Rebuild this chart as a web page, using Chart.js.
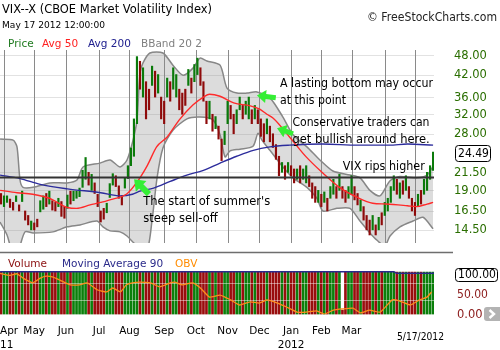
<!DOCTYPE html>
<html><head><meta charset="utf-8"><title>VIX--X</title>
<script src="https://cdn.jsdelivr.net/npm/chart.js@4.4.1/dist/chart.umd.min.js"></script>
<style>
html,body{margin:0;padding:0;background:#fff;width:500px;height:350px;overflow:hidden}
#c1{position:absolute;left:0;top:0}
#c2{position:absolute;left:0;top:250px}
</style></head><body>
<canvas id="c1" width="500" height="250"></canvas>
<canvas id="c2" width="500" height="100"></canvas>
<script>
// ---------- DATA ----------
// trading-day index: 0 = first trading day of Apr 2011; one price bar every 2 trading days
const firstBarDay = -2, barStep = 2;
const lows = [17.3,17.0,17.5,16.9,16.6,17.6,16.5,17.6,15.5,15.0,
  14.5,14.5,14.8,16.4,16.7,17.0,17.3,16.6,16.5,17.0,
  15.9,15.7,16.8,17.3,17.7,18.0,18.2,19.4,20.5,19.7,
  19.0,18.6,17.0,15.3,15.6,16.3,18.1,19.7,19.5,18.0,
  17.2,19.3,20.6,22.5,24.0,30.0,38.0,36.0,31.0,33.0,
  39.0,36.0,37.0,31.0,30.0,36.0,35.0,38.0,36.0,33.0,
  32.0,34.0,39.0,37.0,40.0,42.0,39.0,35.0,30.0,31.0,
  28.5,29.0,27.0,23.3,26.0,30.0,31.0,28.0,30.0,33.0,
  31.0,32.0,31.0,30.0,31.0,30.0,27.5,26.5,28.0,26.5,
  25.5,23.5,21.0,21.5,20.5,21.5,21.0,20.0,20.5,20.0,
  20.5,20.0,19.5,18.0,17.5,17.5,17.0,17.5,16.5,18.0,
  18.5,18.0,19.0,18.0,17.5,18.0,18.5,17.8,17.2,16.5,
  15.5,14.5,14.0,14.5,14.0,14.5,15.0,16.0,16.5,17.5,
  19.0,18.5,18.0,18.5,19.0,18.0,16.5,16.0,17.0,17.3,
  18.5,19.0,20.5,21.8];
const highs = [18.6,18.3,18.3,17.9,17.5,18.3,17.2,18.9,16.5,16.0,
  15.4,15.2,15.6,17.7,18.3,18.6,18.9,17.7,17.5,18.0,
  17.6,17.0,18.4,18.9,18.9,18.9,19.3,21.8,23.8,21.5,
  21.2,20.0,18.5,16.5,16.8,17.4,19.9,21.3,21.0,19.6,
  18.3,20.7,22.5,25.4,31.0,47.5,46.0,44.0,40.0,38.0,
  44.5,43.0,42.0,36.0,35.0,41.0,40.0,44.0,42.0,38.0,
  37.0,38.0,43.5,41.0,45.0,47.0,44.0,40.0,35.0,35.0,
  32.0,31.5,29.5,27.0,28.5,35.0,34.0,32.0,33.0,36.0,
  34.0,35.0,36.0,33.0,34.0,33.0,31.0,30.0,31.0,29.5,
  28.0,26.0,24.0,23.0,22.5,23.0,22.5,22.0,22.0,22.5,
  22.0,22.5,21.0,20.0,19.5,19.0,18.5,18.8,18.0,19.5,
  20.5,19.5,21.2,19.5,19.0,19.5,21.0,19.5,18.6,17.8,
  17.0,16.0,15.5,16.0,15.0,15.8,16.3,17.5,18.0,19.5,
  21.0,20.5,20.0,20.3,21.0,19.5,18.0,17.5,18.5,19.0,
  20.5,21.5,22.5,24.7];
// G = up bar, R = down bar
const dirs = "RGGRRGRGRR" + "GRRGGRGRRG" + "RRGRGGGGGR" + "GRRRRGGGRR" + "RGGGGGRGRR" +
             "GRGRRGRGGR" + "RRGRGGRRRG" + "RGRRGGRRGG" + "RGGRGRRRGR" + "RRRGRGRRGR" +
             "GGRRRGRGRG" + "GRGRRGGRRG" + "RRRGRGRGGG" + "GRGRGRRRGR" + "GGGG";
const volume = [107,107,107,107,107,107,107,107,107,107,
  107,107,107,107,107,107,107,107,107,107,
  107,107,107,107,107,107,107,107,107,107,
  107,107,107,107,107,107,107,107,107,107,
  107,107,107,107,107,107,107,107,107,107,
  107,107,107,107,107,107,107,107,107,107,
  107,107,107,107,107,107,107,107,107,107,
  107,107,107,107,107,107,107,107,107,107,
  107,107,107,107,107,107,107,107,107,107,
  107,107,107,107,107,107,107,107,107,107,
  107,107,107,107,107,107,107,107,107,107,
  107,107,107,11,107,107,107,107,107,107,
  107,107,107,107,107,107,107,107,107,107,
  107,107,107,107,107,107,107,107,107,107,
  107,107,107,107];

const ma50Days = [-2.6,8.6,19,30,42,48,57,64,72,81,88,95,101,108,116,125,132,136,143,152,163,169,174,178,189,200,211,222,234,244,253,267,273,280,284];
const ma50Vals = [19.0,18.7,18.5,18.0,16.9,16.8,17.2,17.5,17.9,18.5,20.1,22.6,25.6,27.4,30.8,34.1,36.0,36.7,36.2,34.6,33.9,33.2,32.0,31.2,27.4,23.9,21.4,19.4,18.1,17.4,17.3,17.1,17.0,17.3,17.5];
const ma200Days = [-2.6,10.6,24,42,64,77,85,90,99,110,121,132,143,154,165,176,189,211,234,255,267,284];
const ma200Vals = [21.1,20.6,19.8,19.2,18.7,18.3,18.5,18.9,19.3,20.2,21.1,21.8,22.9,24.0,25.0,25.6,25.9,26.1,25.9,25.9,26.1,25.9];
const bbUpDays = [-2.6,6,8.6,10.6,12.6,19.2,30.4,41.7,48.3,52.3,63.5,70.2,76.8,81.4,85.4,88,90,92,96.6,105.2,111.8,118.5,125.1,129.7,134.3,143,147.6,154.2,160.8,167.4,176,184.6,191.3,200.5,209.1,217.7,229,235.6,242.2,248.8,255.5,262,273.3,280,284];
const bbUpVals = [27.0,26.8,25.6,20.4,19.4,19.4,20.0,20.0,20.4,22.3,22.9,23.4,22.3,23.4,26.8,30.8,42.4,45.5,48.7,48.7,44.8,41.8,43.9,47.0,46.1,44.8,38.3,37.0,37.0,37.3,35.8,31.4,27.8,25.6,23.4,21.7,21.1,20.7,19.0,18.3,20.3,20.9,20.7,21.1,22.4];
const bbLoDays = [-2.6,2,5.3,9.3,13.9,19.2,32.4,41.7,50.3,61.5,65.5,70.2,76.8,81.4,88,94.6,98,101.3,105.2,111.8,121.1,129.7,138.3,143,146.3,149.6,156.2,164.8,168.1,170.7,176,184.6,191.3,200.5,207.1,211.1,220.4,229,235.6,242.2,246.9,252.1,255.5,262.1,270.7,277.3,284];
const bbLoVals = [15.3,14.0,12.6,12.6,14.3,14.2,14.3,14.8,15.0,15.4,14.8,14.4,14.3,13.9,13.0,12.6,15.5,20.7,25.4,28.7,31.0,31.4,30.8,27.8,23.9,24.9,25.2,25.7,28.1,26.8,25.0,22.3,20.7,19.4,18.0,16.5,16.8,16.8,15.4,14.2,13.5,13.0,13.9,14.8,15.4,15.8,14.6];
const supportLevel = 20.75;

const obvDays = [-2.6,4,8.6,12.6,19,24,28,32,37,44,50,55,62,68,72,77,81,85,90,97,103,110,113,118,125,130,136,143,150,156,163,169,174,181,187,194,200,207,212,218,224,231,236,242,249,257,262,269,275,280,283];
const obvVals = [104,99,103,92,80,92,97,95,87,75,75,80,62,57,67,57,75,80,82,80,70,80,82,75,80,67,44,49,37,24,32,29,37,29,19,6,6,9,1,11,14,16,4,11,6,37,34,24,37,44,57];
const ma90Days = [-2.6,258,260,284.6];
const ma90Vals = [108,108,104,104];

const monthStarts = [0,20,41,63,83,106,127,148,169,190,210,230,252,272];
const monthLabels = ["Apr","May","Jun","Jul","Aug","Sep","Oct","Nov","Dec","Jan","Feb","Mar","",""];
const yearLabels  = ["11","","","","","","","","","2012","","","",""];
const priceTicks = [48,42,36,32,28,21.5,19,16.5,14.5];
const lastPrice = 24.49;
const volumeTicks = [50,0];
const lastVolumeLabel = 100;
const lastDateLabel = "5/17/2012";

const notes = [
  {day:92.2, value:17.18, lines:["The start of summer's","steep sell-off"], w:[161,88]},
  {day:182.7, value:38.6, lines:["A lasting bottom may occur","at this point"], w:[153,66]},
  {day:190.9, value:29.5, lines:["Conservative traders can","get bullish around here."], w:[137,140]},
  {day:224.2, value:21.8, lines:["VIX rips higher"], w:[82]}
];
const arrows = [
  {day:86.1, value:20.5, dx:-1, dy:-1, len:21, head:10, hw:15, sw:6},
  {day:167.4, value:36.4, dx:-1, dy:-0.12, len:19, head:9, hw:13, sw:5},
  {day:180.7, value:29.1, dx:-1, dy:-0.35, len:17, head:9, hw:13, sw:5}
];

// ---------- helpers ----------
const X_MIN = -2.65, X_MAX = 284.6;
const FONT = "'DejaVu Sans', Verdana, sans-serif";
const zip = (d, v) => d.map((x, k) => ({x, y: v[k]}));
const barData = lows.map((lo, k) => ({x: firstBarDay + k*barStep, y: [lo, highs[k]]}));
const barColors = dirs.split('').map(c => c === 'G' ? '#0a7a0a' : '#8e0a0a');
const volData = volume.map((v, k) => ({x: firstBarDay + k*barStep, y: v}));
const volColors = dirs.split('').map(c => c === 'G' ? '#0b7f0b' : '#990d0d');

function txt(ctx, s, x, y, size, color, maxW, align, base, weight) {
  ctx.save();
  ctx.font = (weight || '') + ' ' + size + 'px ' + FONT;
  ctx.fillStyle = color;
  ctx.textAlign = align || 'left';
  ctx.textBaseline = base || 'alphabetic';
  if (maxW) ctx.fillText(s, x, y, maxW); else ctx.fillText(s, x, y);
  ctx.restore();
}
function rrect(ctx, x, y, w, h, r) {
  ctx.beginPath();
  ctx.moveTo(x + r, y); ctx.lineTo(x + w - r, y); ctx.quadraticCurveTo(x + w, y, x + w, y + r);
  ctx.lineTo(x + w, y + h - r); ctx.quadraticCurveTo(x + w, y + h, x + w - r, y + h);
  ctx.lineTo(x + r, y + h); ctx.quadraticCurveTo(x, y + h, x, y + h - r);
  ctx.lineTo(x, y + r); ctx.quadraticCurveTo(x, y, x + r, y); ctx.closePath();
}
function blockArrow(ctx, tx, ty, a) {
  const m = Math.hypot(a.dx, a.dy), ux = a.dx/m, uy = a.dy/m, px = -uy, py = ux;
  const bx = tx - ux*a.head, by = ty - uy*a.head, ex = tx - ux*a.len, ey = ty - uy*a.len;
  ctx.beginPath();
  ctx.moveTo(tx, ty);
  ctx.lineTo(bx + px*a.hw/2, by + py*a.hw/2);
  ctx.lineTo(bx + px*a.sw/2, by + py*a.sw/2);
  ctx.lineTo(ex + px*a.sw/2, ey + py*a.sw/2);
  ctx.lineTo(ex - px*a.sw/2, ey - py*a.sw/2);
  ctx.lineTo(bx - px*a.sw/2, by - py*a.sw/2);
  ctx.lineTo(bx - px*a.hw/2, by - py*a.hw/2);
  ctx.closePath();
  ctx.fillStyle = '#35ee35'; ctx.fill();
}

// ---------- price panel ----------
const pricePlugin = {
  id: 'pricePlugin',
  beforeDatasetsDraw(chart) {
    const {ctx, chartArea: a, scales: {x, y}} = chart;
    ctx.save();
    ctx.lineWidth = 1;
    ctx.strokeStyle = '#e2e2e2';
    priceTicks.forEach(v => {
      const py = Math.round(y.getPixelForValue(v)) + 0.5;
      ctx.beginPath(); ctx.moveTo(a.left, py); ctx.lineTo(a.right, py); ctx.stroke();
    });
    ctx.strokeStyle = '#8a8a8a';
    monthStarts.forEach(d => {
      const px = Math.round(x.getPixelForValue(d)) + 0.5;
      ctx.beginPath(); ctx.moveTo(px, a.top); ctx.lineTo(px, a.bottom); ctx.stroke();
    });
    ctx.restore();
  },
  afterDraw(chart) {
    const {ctx, scales: {x, y}} = chart;
    // header
    txt(ctx, 'VIX--X (CBOE Market Volatility Index)', 2, 12.5, 13, '#000', 210);
    txt(ctx, 'May 17 2012 12:00:00', 2, 28, 9.5, '#000', 103);
    [['Price', '#1f7a1f', 8, 26], ['Avg 50', '#ff2020', 42, 41], ['Avg 200', '#20208f', 88, 45], ['BBand 20 2', '#808080', 141, 64]]
      .forEach(l => txt(ctx, l[0], l[2], 46.5, 10.5, l[1], l[3]));
    txt(ctx, '\u00A9 FreeStockCharts.com', 367, 20.5, 11.5, '#222', 130);
    // right axis
    priceTicks.forEach(v => txt(ctx, v.toFixed(2), 454, y.getPixelForValue(v) + 0.5, 11.5, '#2a6e00', 34, 'left', 'middle'));
    const ly = y.getPixelForValue(lastPrice);
    ctx.save();
    rrect(ctx, 455.5, Math.round(ly) - 7.5, 35, 16, 3);
    ctx.fillStyle = '#fff'; ctx.fill(); ctx.strokeStyle = '#000'; ctx.lineWidth = 1; ctx.stroke();
    ctx.restore();
    txt(ctx, lastPrice.toFixed(2), 458, Math.round(ly) + 1, 11.5, '#000', 31, 'left', 'middle');
    // annotations
    ctx.save();
    arrows.forEach(a => blockArrow(ctx, x.getPixelForValue(a.day), y.getPixelForValue(a.value), a));
    ctx.restore();
    notes.forEach(n => {
      const nx = x.getPixelForValue(n.day), ny = y.getPixelForValue(n.value);
      n.lines.forEach((s, k) => txt(ctx, s, nx, ny + k*16.7, 11.5, '#000', n.w[k]));
    });
  }
};

new Chart(document.getElementById('c1'), {
  type: 'bar',
  data: {datasets: [
    {type: 'line', label: 'support', data: [{x: X_MIN, y: supportLevel}, {x: X_MAX, y: supportLevel}],
     borderColor: '#333', borderWidth: 2.2, pointRadius: 0, order: 0},
    {type: 'line', label: 'Avg 50', data: zip(ma50Days, ma50Vals), borderColor: '#ff2a2a', borderWidth: 1.4,
     pointRadius: 0, cubicInterpolationMode: 'monotone', order: 1},
    {type: 'line', label: 'Avg 200', data: zip(ma200Days, ma200Vals), borderColor: '#2c2c9c', borderWidth: 1.4,
     pointRadius: 0, cubicInterpolationMode: 'monotone', order: 1},
    {type: 'bar', label: 'Price', data: barData, backgroundColor: barColors, barThickness: 1.5, borderWidth: 0, order: 2},
    {type: 'line', label: 'BBand upper', data: zip(bbUpDays, bbUpVals), borderColor: '#878787', borderWidth: 1.5,
     pointRadius: 0, tension: 0.25, fill: false, order: 3},
    {type: 'line', label: 'BBand lower', data: zip(bbLoDays, bbLoVals), borderColor: '#878787', borderWidth: 1.5,
     pointRadius: 0, tension: 0.25, fill: '-1', backgroundColor: 'rgba(140,140,140,0.30)', order: 4}
  ]},
  options: {
    responsive: false, animation: false, devicePixelRatio: 1,
    layout: {padding: {left: 0, right: 66, top: 50, bottom: 7}},
    scales: {
      x: {type: 'linear', min: X_MIN, max: X_MAX, display: false, offset: false},
      y: {type: 'logarithmic', min: 13.25, max: 49.7, display: false}
    },
    plugins: {legend: {display: false}, tooltip: {enabled: false}}
  },
  plugins: [pricePlugin]
});

// ---------- volume / OBV panel ----------
const volPlugin = {
  id: 'volPlugin',
  afterDatasetDraw(chart, args) {
    if (args.meta.type !== 'bar') return;
    const {ctx, chartArea: a, scales: {y}} = chart;
    ctx.save();
    ctx.strokeStyle = 'rgba(255,255,255,0.45)'; ctx.lineWidth = 1;
    [37, 80].forEach(v => {
      const py = Math.round(y.getPixelForValue(v)) + 0.5;
      ctx.beginPath(); ctx.moveTo(a.left, py); ctx.lineTo(a.right, py); ctx.stroke();
    });
    ctx.restore();
  },
  afterDraw(chart) {
    const {ctx, scales: {x, y}} = chart;
    ctx.save();
    ctx.strokeStyle = '#6e6e6e'; ctx.lineWidth = 1.5;
    ctx.beginPath(); ctx.moveTo(0, 2.5); ctx.lineTo(453, 2.5); ctx.stroke();
    ctx.restore();
    [['Volume', '#8b0f0f', 8, 41], ['Moving Average 90', '#2a2a8a', 62, 105], ['OBV', '#ff8c00', 175, 23]]
      .forEach(l => txt(ctx, l[0], l[2], 17, 10.5, l[1], l[3]));
    volumeTicks.forEach(v => txt(ctx, v.toFixed(2), 457, y.getPixelForValue(v) + 0.5, 11.5, '#8b1a1a', 31, 'left', 'middle'));
    const by = Math.round(y.getPixelForValue(lastVolumeLabel));
    ctx.save();
    rrect(ctx, 455.5, by - 6.5, 42, 13, 3);
    ctx.fillStyle = '#fff'; ctx.fill(); ctx.strokeStyle = '#000'; ctx.lineWidth = 1; ctx.stroke();
    ctx.restore();
    txt(ctx, lastVolumeLabel.toFixed(2), 458, by + 0.5, 11.5, '#000', 38, 'left', 'middle');
    // scroll button
    ctx.save();
    rrect(ctx, 484, 57, 18, 14, 3); ctx.fillStyle = '#b3b3b3'; ctx.fill();
    ctx.strokeStyle = '#fff'; ctx.lineWidth = 2.4;
    ctx.beginPath(); ctx.moveTo(489.5, 60); ctx.lineTo(494, 64); ctx.lineTo(489.5, 68); ctx.stroke();
    ctx.restore();
    // month axis
    ctx.save();
    ctx.font = '10.5px ' + FONT;
    monthStarts.forEach((d, k) => {
      const px = x.getPixelForValue(d);
      [[monthLabels[k], 84], [yearLabels[k], 98]].forEach(([s, yy]) => {
        if (!s) return;
        const w = ctx.measureText(s).width;
        const left = Math.max(0, px - w/2);
        txt(ctx, s, left, yy, 10.5, '#000');
      });
    });
    ctx.restore();
    txt(ctx, lastDateLabel, 444, 89.5, 10, '#000', 47, 'right');
  }
};

new Chart(document.getElementById('c2'), {
  type: 'bar',
  data: {datasets: [
    {type: 'line', label: 'OBV', data: zip(obvDays, obvVals), borderColor: '#ff8c1a', borderWidth: 1.3,
     pointRadius: 0, tension: 0.15, order: 0},
    {type: 'line', label: 'Moving Average 90', data: zip(ma90Days, ma90Vals), borderColor: '#2a2a8a', borderWidth: 1.5,
     pointRadius: 0, order: 1},
    {type: 'bar', label: 'Volume', data: volData, backgroundColor: volColors, barThickness: 2.0, borderWidth: 0, order: 2}
  ]},
  options: {
    responsive: false, animation: false, devicePixelRatio: 1,
    layout: {padding: {left: 0, right: 66, top: 21, bottom: 35.5}},
    scales: {
      x: {type: 'linear', min: X_MIN, max: X_MAX, display: false, offset: false},
      y: {type: 'linear', min: 0, max: 110, display: false}
    },
    plugins: {legend: {display: false}, tooltip: {enabled: false}}
  },
  plugins: [volPlugin]
});
</script>
</body></html>
